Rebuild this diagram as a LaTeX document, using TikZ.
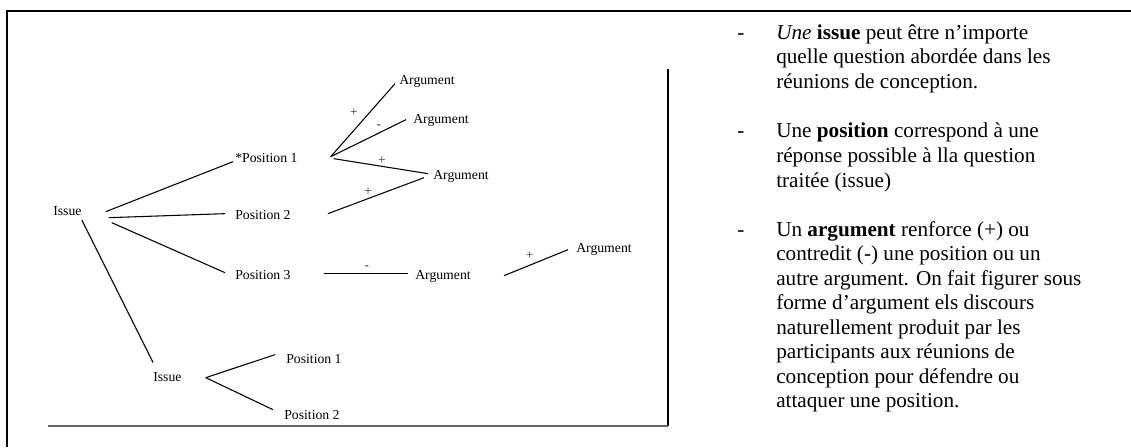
\documentclass[tikz,border=0pt]{standalone}
\usepackage{fontspec}
\setmainfont{Liberation Serif}

\begin{document}
\begin{tikzpicture}[
            x = 0.75pt, y = -0.75pt,
            elem/.style = {
                inner sep = 0pt,
                anchor = base west,
                text height = 7pt,
                text depth = 2pt,
                font = \fontsize{10.3}{12}\selectfont,
            },
            sign/.style = {
                inner sep = 0pt,
                text = black!80,
                font = \fontsize{10}{11}\selectfont,
            },
            link/.style = {line width = 0.8pt},
            defn/.style = {
                inner sep = 0pt,
                anchor = north west,
                align = left,
                font = \fontsize{15.9}{18.4}\selectfont,
            },
            hyph/.style = {
                inner sep = 0pt,
                anchor = base,
                font = \fontsize{15.9}{18.4}\selectfont,
            },
        ]
        \useasboundingbox (0,0) rectangle (1131,447);

        % Cadre
        \draw[line width = 1.5pt] (7,447) -- (7,11) -- (1131,11);
        \draw[line width = 1.5pt] (668,69) -- (668,426);
        \draw[line width = 1.5pt, black!60] (48,426) -- (668,426);

        % Noeuds
        \node[elem] (issue) at (53,215) {Issue};
        \node[elem] (pos1) at (235,162) {*Position 1};
        \node[elem] (pos2) at (235,219) {Position 2};
        \node[elem] (pos3) at (235,279) {Position 3};
        \node[elem] (arg1) at (399,84) {Argument};
        \node[elem] (arg2) at (413,123) {Argument};
        \node[elem] (arg3) at (433,179) {Argument};
        \node[elem] (arg4) at (415,279) {Argument};
        \node[elem] (arg5) at (576,252) {Argument};
        \node[elem] (issueb) at (153,381) {Issue};
        \node[elem] (posb1) at (286,363) {Position 1};
        \node[elem] (posb2) at (284,419) {Position 2};

        % Liens
        \draw[link] ([shift={(24,0)}]issue.east) -- ([shift={(-2,3)}]pos1.west);
        \draw[link] ([shift={(27,6)}]issue.east) -- ([shift={(-10,-2)}]pos2.west);
        \draw[link] ([shift={(30,11)}]issue.east) -- ([shift={(-10,-3)}]pos3.west);
        \draw[link] ([shift={(0,2)}]issue.south east) -- ([shift={(0,-9)}]issueb.north west);

        \draw[link] ([shift={(33,-2)}]pos1.east) -- node[sign, pos=0.5, shift={(-9,-7)}] {+} ([shift={(-4,3)}]arg1.west);
        \draw[link] ([shift={(33,-2)}]pos1.east) -- node[sign, pos=0.64, shift={(0,-6)}] {-} ([shift={(-7,0)}]arg2.west);
        \draw[link] ([shift={(36,0)}]pos1.east) -- node[sign, pos=0.5, shift={(1,-5)}] {+} ([shift={(-5,-2)}]arg3.west);
        \draw[link] ([shift={(37,-2)}]pos2.east) -- node[sign, pos=0.42, shift={(0,-7)}] {+} ([shift={(-9,2)}]arg3.west);
        \draw[link] ([shift={(33,-2)}]pos3.east) -- node[sign, pos=0.5, shift={(1,-5.5)}] {-} ([shift={(-7,-2)}]arg4.west);
        \draw[link] ([shift={(33,0)}]arg4.east) -- node[sign, pos=0.4, shift={(0,-10)}] {+} ([shift={(-8,1)}]arg5.west);

        \draw[link] ([shift={(24,0)}]issueb.east) -- ([shift={(-11,-5)}]posb1.west);
        \draw[link] ([shift={(24,0)}]issueb.east) -- ([shift={(-11,-6)}]posb2.west);

        % Definitions
        \node[hyph] (tiret1) at (741,39) {-};
        \node[defn] (def1) at (776,21.8) {\strut\textit{Une} \textbf{issue} peut être n’importe\\quelle question abordée dans les\\réunions de conception.};
        \node[hyph] (tiret2) at (741,137.7) {-};
        \node[defn] (def2) at (776,120.5) {\strut Une \textbf{position} correspond à une\\réponse possible à lla question\\traitée (issue)};
        \node[hyph] (tiret3) at (741,236) {-};
        \node[defn] (def3) at (776,218.8) {\strut Un \textbf{argument} renforce (+) ou\\contredit (-) une position ou un\\autre argument. On fait figurer sous\\forme d’argument els discours\\naturellement produit par les\\participants aux réunions de\\conception pour défendre ou\\attaquer une position.};
    \end{tikzpicture}
\end{document}
